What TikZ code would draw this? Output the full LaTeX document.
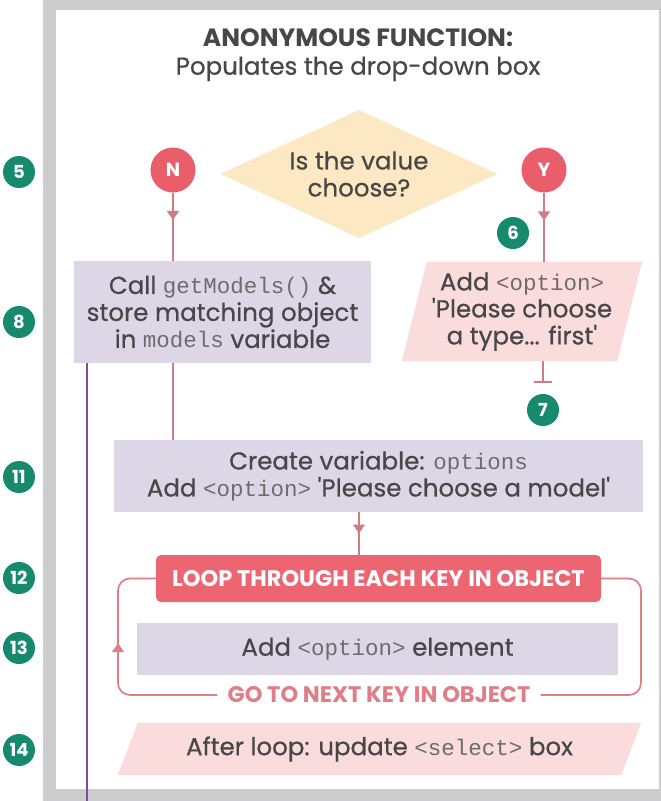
\documentclass[tikz,border=0pt]{standalone}
\usepackage{fontspec}
\setmainfont{Poppins}
\setmonofont{Liberation Mono}
\newfontfamily\medfont{Poppins}[FakeBold=0.6]
\usetikzlibrary{shapes.geometric,arrows.meta,decorations.markings,calc,backgrounds}

\definecolor{framegray}{HTML}{CDCDD0}
\definecolor{cream}{HTML}{FCE8C2}
\definecolor{ynred}{HTML}{EA5D6B}
\definecolor{connc}{HTML}{CF7D85}
\definecolor{lav}{HTML}{DDD6E7}
\definecolor{pinkfill}{HTML}{F9DCDB}
\definecolor{loopred}{HTML}{EC6571}
\definecolor{loopline}{HTML}{E07E88}
\definecolor{teal}{HTML}{178A6E}
\definecolor{txt}{HTML}{474747}
\definecolor{vline}{HTML}{7A4C9E}

\newcommand\cd[1]{{\ttfamily\fontsize{22.5}{27}\selectfont\color{txt!80}#1}}

\tikzset{
  conn/.style={draw=connc, line width=1.7pt},
  midarrow/.style={postaction={decorate}, decoration={markings,
      mark=at position #1 with {\arrow{Triangle[width=12pt,length=9pt]}}}},
  badge/.style={circle, fill=teal, text=white, inner sep=0pt, minimum size=32pt,
      font=\bfseries\fontsize{18}{18}\selectfont},
  yn/.style={circle, fill=ynred, text=white, inner sep=0pt, minimum size=45pt,
      font=\bfseries\fontsize{19}{19}\selectfont},
  boxtext/.style={align=center, text=txt, font=\medfont\fontsize{24.5}{27}\selectfont},
  procbox/.style={boxtext, fill=lav, inner sep=0pt},
  parabox/.style={boxtext, inner sep=0pt},
  loopfont/.style={font=\bfseries\fontsize{22.5}{22.5}\selectfont},
}

\begin{document}
\begin{tikzpicture}[x=1pt,y=-1pt]
\useasboundingbox (0,0) rectangle (661,801);

% decision and branches
\node[diamond, fill=cream, shape aspect=2.2, inner sep=0pt,
      minimum width=277pt, minimum height=128pt, boxtext] (dec) at (359,174)
      {Is the value\\choose?};
\node[yn] (n) at (173,170) {N};
\node[yn] (y) at (544,170) {Y};

\node[procbox, minimum width=297pt, minimum height=102pt] (getm) at (222.5,312)
  {Call \cd{getModels()} \&\\store matching object\\in \cd{models} variable};
\node[parabox, minimum width=215pt, minimum height=99pt] (addopt) at (522,311.5)
  {Add \cd{<option>}\\'Please choose\\a type... first'};

\node[procbox, minimum width=529pt, minimum height=72pt] (cv) at (378.5,476)
  {Create variable: \cd{options}\\Add \cd{<option>} 'Please choose a model'};

% loop
\node[fill=loopred, rounded corners=5pt, minimum width=445pt, minimum height=47pt,
      text=white, loopfont] (loop) at (378.5,578.5)
  {LOOP THROUGH EACH KEY IN OBJECT};
\node[procbox, minimum width=481pt, minimum height=52pt] (ae) at (377.5,649)
  {Add \cd{<option>} element};
\node[text=loopline, loopfont, inner sep=10pt] (nxt) at (379,695)
  {GO TO NEXT KEY IN OBJECT};

\node[parabox, minimum width=503pt, minimum height=52pt] (al) at (379.5,749)
  {After loop: update \cd{<select>} box};

% step badges
\node[badge] (b5) at (19,172) {5};
\node[badge] (b8) at (19,322) {8};
\node[badge] (b11) at (19,477) {11};
\node[badge] (b12) at (19,578) {12};
\node[badge] (b13) at (19,648) {13};
\node[badge] (b14) at (19,750) {14};
\node[badge] (b6) at (513,233) {6};
\node[badge] (b7) at (543,410) {7};

% frame and slanted boxes underneath everything
\begin{scope}[on background layer]
  \fill[framegray] (43,0) rectangle (661,801);
  \fill[white] (56,10) rectangle (659,789);
  \fill[pinkfill] ($(addopt.south west)+(-12.5,0)$) -- ($(addopt.north west)+(12.5,0)$)
     -- ($(addopt.north east)+(12.5,0)$) -- ($(addopt.south east)+(-12.5,0)$) -- cycle;
  \fill[pinkfill] ($(al.south west)+(-10,0)$) -- ($(al.north west)+(10,0)$)
     -- ($(al.north east)+(10,0)$) -- ($(al.south east)+(-10,0)$) -- cycle;
\end{scope}

% connectors
\coordinate (t7) at (543,383);
\coordinate (pend) at (87,801);
\coordinate (lb) at (118,695);
\coordinate (rb) at (641,695);

\draw[conn, midarrow=0.4] (n) -- (n |- getm.north);
\draw[conn, midarrow=0.4] (y) -- (y |- addopt.north);
\draw[conn, -{Bar[width=18pt]}] (addopt.south -| t7) -- (t7);
\draw[conn] (getm.south -| n) -- (cv.north -| n);
\draw[conn, midarrow=0.5] (cv.south -| dec) -- (loop.north -| dec);
\draw[draw=loopline, line width=1.7pt, rounded corners=12pt, midarrow=0.6]
  (nxt.west) -- (lb) -- (lb |- loop.west) -- (loop.west);
\draw[draw=loopline, line width=1.7pt, rounded corners=12pt]
  (loop.east) -- (rb |- loop.east) -- (rb) -- (nxt.east);
\draw[draw=vline, line width=2.5pt] (getm.south -| pend) -- (pend);

% heading
\node[align=center, text=txt, font=\fontsize{24.5}{28}\selectfont] (title) at (358,55)
  {{\fontsize{25}{28}\selectfont\bfseries ANONYMOUS FUNCTION:}\\{\medfont Populates the drop-down box}};
\end{tikzpicture}
\end{document}
